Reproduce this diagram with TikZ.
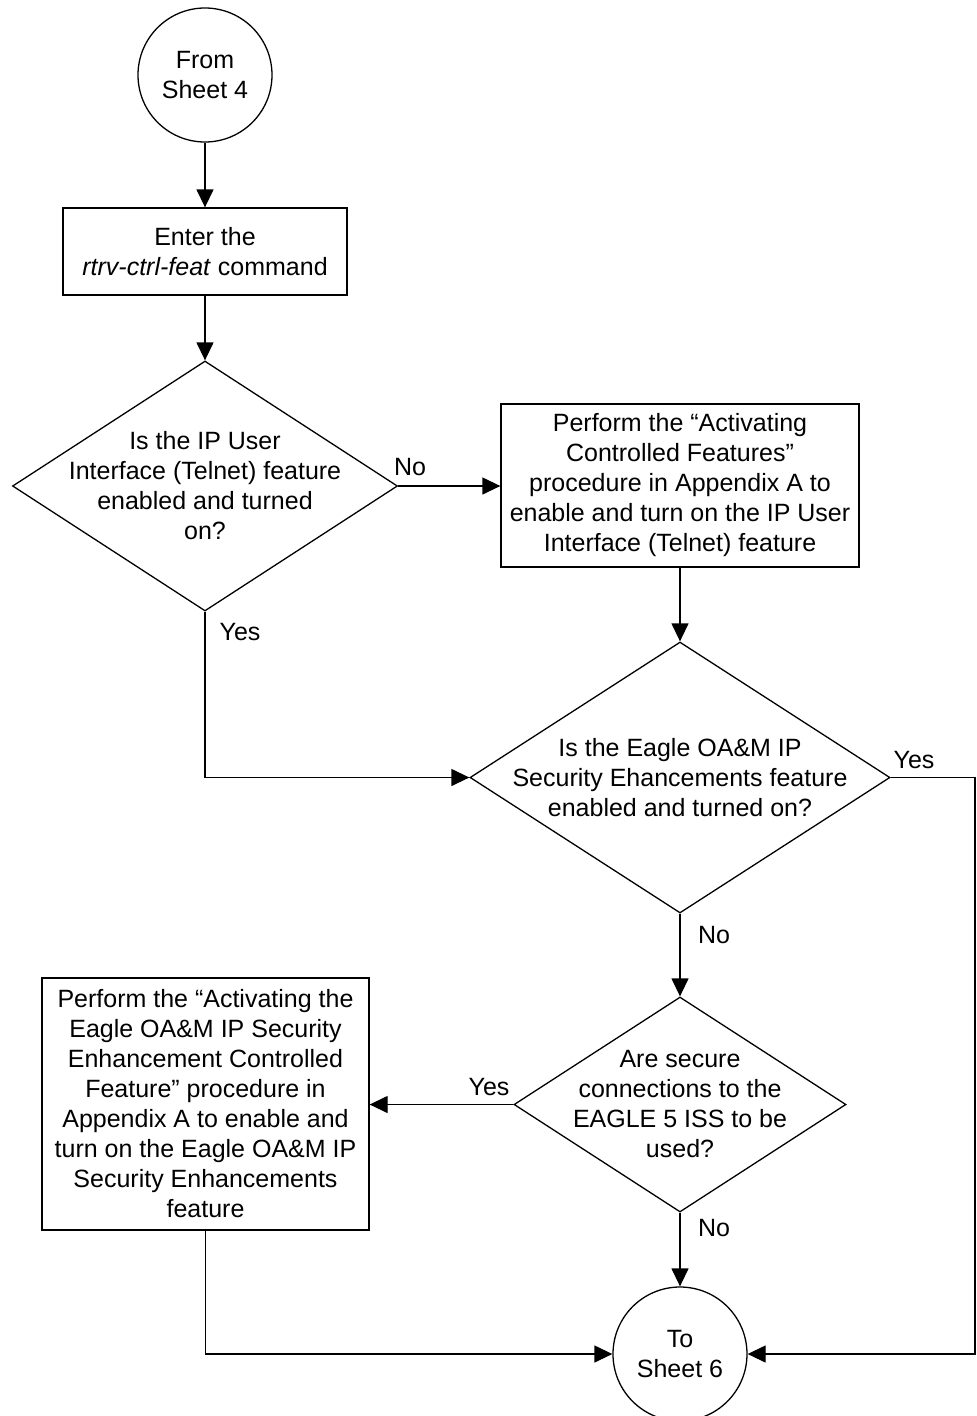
\documentclass[tikz,border=0pt]{standalone}
\usepackage{fontspec}
\setmainfont{Liberation Sans}
\usetikzlibrary{shapes.geometric,arrows.meta}
\begin{document}
\begin{tikzpicture}[x=1pt,y=-1pt,
  every node/.style={font=\fontsize{25}{30}\selectfont, align=center, inner sep=0pt},
  box/.style={draw, line width=1.3pt, rectangle},
  dia/.style={draw, line width=1.3pt, diamond},
  term/.style={draw, line width=1.3pt, circle, minimum size=134pt},
  arr/.style={line width=1.3pt, -{Triangle[length=18pt,width=17pt]}}]
\fill[white] (0,0) rectangle (977,1416);
\useasboundingbox (0,0) rectangle (977,1416);
% nodes
\node[term] (s4) at (205,75) {From\\Sheet 4};
\node[box, minimum width=284pt, minimum height=87pt] (b1) at (205,251.5) {Enter the\\\textit{rtrv-ctrl-feat} command};
\node[dia, minimum width=385pt, minimum height=250pt] (d1) at (205,486) {};
\node (t1) at (d1.center) {Is the IP User\\Interface (Telnet) feature\\enabled and turned\\on?};
\node[box, minimum width=358pt, minimum height=163pt] (b2) at (680,485.5) {Perform the “Activating\\Controlled Features”\\procedure in Appendix A to\\enable and turn on the IP User\\Interface (Telnet) feature};
\node[dia, minimum width=420pt, minimum height=271pt] (d2) at (680,777.5) {};
\node (t2) at (d2.center) {Is the Eagle OA\&M IP\\Security Ehancements feature\\enabled and turned on?};
\node[dia, minimum width=332pt, minimum height=215pt] (d3) at (680,1104.5) {};
\node (t3) at (d3.center) {Are secure\\connections to the\\EAGLE 5 ISS to be\\used?};
\node[box, minimum width=327pt, minimum height=252pt] (b3) at (205.5,1104) {Perform the “Activating the\\Eagle OA\&M IP Security\\Enhancement Controlled\\Feature” procedure in\\Appendix A to enable and\\turn on the Eagle OA\&M IP\\Security Enhancements\\feature};
\node[term] (s6) at (680,1354) {To\\Sheet 6};
\coordinate (c1) at (975,777.5);
% labels
\node (l1) at (410,467) {No};
\node (l2) at (240,632) {Yes};
\node (l3) at (914,760) {Yes};
\node (l4) at (714,935) {No};
\node (l5) at (489,1087) {Yes};
\node (l6) at (714,1228) {No};
% connectors
\draw[arr] (s4) -- (b1);
\draw[arr] (b1) -- (d1.north);
\draw[arr] (d1.east) -- (d1.east -| b2.west);
\draw[arr] (b2) -- (d2.north);
\draw[arr] (d1.south) |- (d2.west);
\draw[arr] (d2.east) -- (c1) |- (s6.east);
\draw[arr] (d2.south) -- (d3.north);
\draw[arr] (d3.west) -- (d3.west -| b3.east);
\draw[arr] (d3.south) -- (s6.north);
\draw[arr] (b3.south) |- (s6.west);
\end{tikzpicture}
\end{document}
